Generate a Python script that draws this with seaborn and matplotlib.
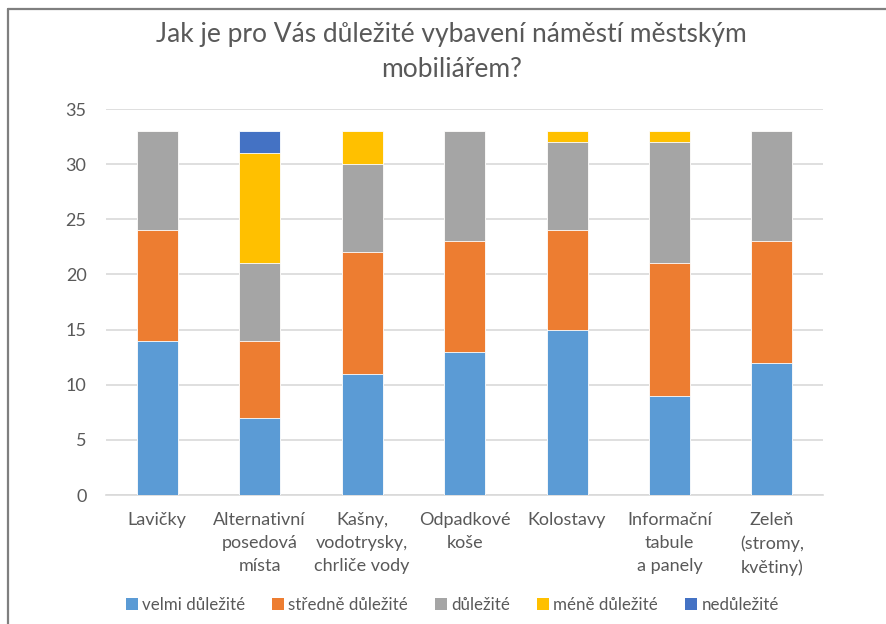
import numpy as np
import pandas as pd
import matplotlib
matplotlib.use("Agg")
import matplotlib.pyplot as plt
from matplotlib.patches import Patch
from matplotlib.lines import Line2D
import seaborn as sns

categories = [
    "Lavičky",
    "Alternativní\nposedová\nmísta",
    "Kašny,\nvodotrysky,\nchrliče vody",
    "Odpadkové\nkoše",
    "Kolostavy",
    "Informační\ntabule\na panely",
    "Zeleň\n(stromy,\nkvětiny)",
]
series_names = ["velmi důležité", "středně důležité", "důležité", "méně důležité", "nedůležité"]
velmi_dulezite = [14, 7, 11, 13, 15, 9, 12]
stredne_dulezite = [10, 7, 11, 10, 9, 12, 11]
dulezite = [9, 7, 8, 10, 8, 11, 10]
mene_dulezite = [0, 10, 3, 0, 1, 1, 0]
nedulezite = [0, 2, 0, 0, 0, 0, 0]
series_values = [velmi_dulezite, stredne_dulezite, dulezite, mene_dulezite, nedulezite]
colors = ["#5B9BD5", "#ED7D31", "#A5A5A5", "#FFC000", "#4472C4"]
yticks = [0, 5, 10, 15, 20, 25, 30, 35]
title = "Jak je pro Vás důležité vybavení náměstí městským\nmobiliářem?"

sns.set_theme(style="white")
plt.rcParams["font.family"] = ["Lato", "DejaVu Sans"]
text_color = "#595959"

fig = plt.figure(figsize=(8.87, 6.24), dpi=100)
ax = fig.add_axes([0.1195, 0.2067, 0.8085, 0.6186])

# stacked bars: draw cumulative totals from the top series down
cum = np.cumsum(np.array(series_values), axis=0)
for i in range(len(series_names) - 1, -1, -1):
    df = pd.DataFrame({"kategorie": categories, "hodnota": cum[i]})
    sns.barplot(data=df, x="kategorie", y="hodnota", color=colors[i],
                width=0.4, saturation=1, edgecolor="white", linewidth=0.6,
                ax=ax, zorder=3)

ax.set_ylim(0, 35)
ax.set_yticks(yticks)
ax.set_xlim(-0.5, len(categories) - 0.5)
ax.set_xlabel("")
ax.set_ylabel("")
ax.yaxis.grid(True, color="#D9D9D9", linewidth=1.2, zorder=0)
ax.set_axisbelow(True)
for s in ["top", "right", "left"]:
    ax.spines[s].set_visible(False)
ax.spines["bottom"].set_color("#D9D9D9")
ax.spines["bottom"].set_linewidth(1.2)
ax.tick_params(axis="both", length=0, colors=text_color, labelsize=13)
ax.tick_params(axis="x", pad=12)
ax.tick_params(axis="y", pad=14)
for lbl in ax.get_xticklabels():
    lbl.set_linespacing(1.55)

fig.text(0.509, 0.965, title, ha="center", va="top", fontsize=19,
         color=text_color, linespacing=1.5)

handles = [Patch(facecolor=c, edgecolor="none") for c in colors]
leg = fig.legend(handles, series_names, loc="center", bbox_to_anchor=(0.51, 0.030),
                 ncol=5, frameon=False, fontsize=12.2, handlelength=0.7,
                 handleheight=0.7, handletextpad=0.25, columnspacing=1.6)
for t in leg.get_texts():
    t.set_color(text_color)

# chart frame edges
fig.add_artist(Line2D([8 / 887, 8 / 887], [0, 1 - 9 / 624], transform=fig.transFigure,
                      color="#7F7F7F", linewidth=1.6))
fig.add_artist(Line2D([8 / 887, 1], [1 - 9 / 624, 1 - 9 / 624], transform=fig.transFigure,
                      color="#7F7F7F", linewidth=1.6))

fig.savefig("out.png", dpi=100, facecolor="white")
